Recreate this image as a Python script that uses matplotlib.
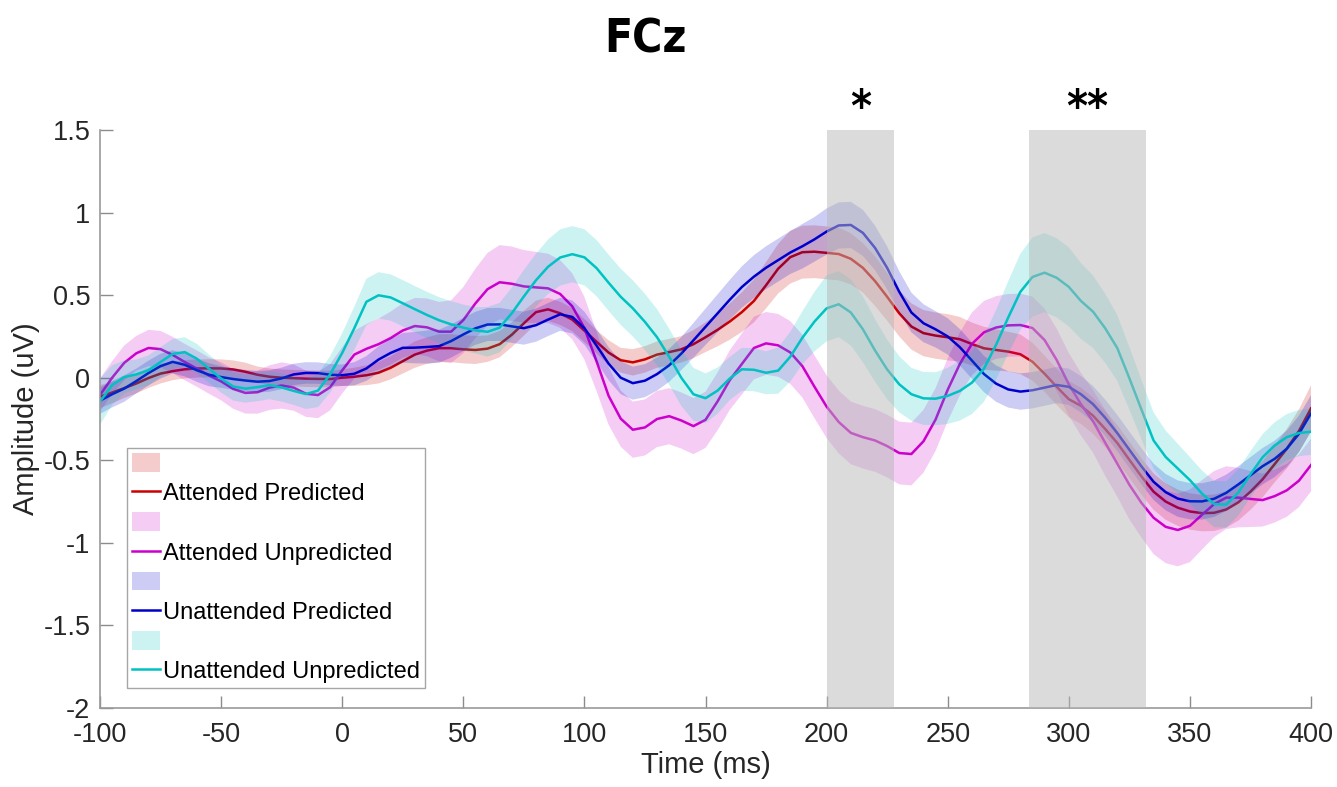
import numpy as np
import matplotlib
matplotlib.use("Agg")
import matplotlib.pyplot as plt
from matplotlib.patches import Patch
from matplotlib.lines import Line2D
from matplotlib.ticker import FormatStrFormatter
from matplotlib import font_manager

# ---- data: grand-average ERP at FCz, sampled every 5 ms ----
times = np.arange(-100, 401, 5)

attended_predicted = [
    -0.115, -0.09, -0.063, -0.035, -0.002, 0.025, 0.04, 0.051, 0.056, 0.057,
    0.056, 0.05, 0.036, 0.018, 0.006, 0.0, -0.003, -0.006, -0.007, -0.008,
    0.0, 0.006, 0.015, 0.03, 0.06, 0.1, 0.14, 0.164, 0.179, 0.179,
    0.172, 0.168, 0.176, 0.203, 0.26, 0.33, 0.397, 0.414, 0.39, 0.352,
    0.285, 0.218, 0.152, 0.106, 0.093, 0.111, 0.14, 0.155, 0.172, 0.203,
    0.245, 0.29, 0.34, 0.397, 0.465, 0.56, 0.66, 0.73, 0.76, 0.763,
    0.756, 0.749, 0.72, 0.665, 0.585, 0.49, 0.39, 0.31, 0.27, 0.255,
    0.245, 0.233, 0.204, 0.178, 0.168, 0.158, 0.142, 0.097, 0.024, -0.055,
    -0.13, -0.17, -0.23, -0.31, -0.395, -0.497, -0.598, -0.69, -0.75, -0.787,
    -0.81, -0.82, -0.818, -0.798, -0.755, -0.69, -0.615, -0.523, -0.43, -0.323,
    -0.186,
]
attended_unpredicted = [
    -0.105, 0.0, 0.09, 0.148, 0.18, 0.173, 0.138, 0.095, 0.055, 0.013,
    -0.022, -0.068, -0.092, -0.088, -0.06, -0.047, -0.06, -0.097, -0.105, -0.058,
    0.045, 0.14, 0.175, 0.203, 0.24, 0.286, 0.313, 0.305, 0.279, 0.279,
    0.349, 0.45, 0.536, 0.578, 0.569, 0.553, 0.547, 0.541, 0.507, 0.432,
    0.3, 0.1, -0.11, -0.248, -0.315, -0.301, -0.25, -0.233, -0.259, -0.293,
    -0.255, -0.143, -0.015, 0.083, 0.18, 0.208, 0.196, 0.153, 0.07, -0.055,
    -0.175, -0.268, -0.334, -0.36, -0.38, -0.414, -0.456, -0.462, -0.385, -0.253,
    -0.073, 0.083, 0.205, 0.275, 0.304, 0.317, 0.319, 0.301, 0.228, 0.107,
    -0.04, -0.16, -0.264, -0.393, -0.52, -0.648, -0.758, -0.848, -0.903, -0.922,
    -0.897, -0.83, -0.765, -0.726, -0.726, -0.734, -0.741, -0.717, -0.682, -0.624,
    -0.529,
]
unattended_predicted = [
    -0.139, -0.1, -0.066, -0.02, 0.028, 0.07, 0.096, 0.078, 0.045, 0.018,
    0.004, -0.008, -0.017, -0.024, -0.02, -0.004, 0.02, 0.029, 0.028, 0.018,
    0.015, 0.024, 0.056, 0.11, 0.15, 0.181, 0.182, 0.186, 0.191, 0.222,
    0.262, 0.299, 0.322, 0.323, 0.311, 0.3, 0.318, 0.352, 0.384, 0.368,
    0.3, 0.195, 0.085, 0.0, -0.033, -0.018, 0.022, 0.075, 0.146, 0.226,
    0.308, 0.39, 0.472, 0.549, 0.612, 0.666, 0.712, 0.758, 0.796, 0.838,
    0.885, 0.922, 0.925, 0.877, 0.786, 0.665, 0.52, 0.395, 0.33, 0.293,
    0.25, 0.185, 0.104, 0.022, -0.036, -0.071, -0.084, -0.076, -0.06, -0.044,
    -0.055, -0.1, -0.16, -0.242, -0.335, -0.436, -0.537, -0.63, -0.693, -0.732,
    -0.748, -0.749, -0.733, -0.697, -0.646, -0.591, -0.536, -0.491, -0.43, -0.34,
    -0.216,
]
unattended_unpredicted = [
    -0.145, -0.045, 0.004, 0.02, 0.045, 0.095, 0.144, 0.155, 0.115, 0.055,
    -0.005, -0.053, -0.066, -0.057, -0.045, -0.059, -0.08, -0.099, -0.078, 0.02,
    0.15, 0.3, 0.46, 0.499, 0.486, 0.451, 0.415, 0.38, 0.348, 0.323,
    0.303, 0.287, 0.278, 0.303, 0.39, 0.492, 0.59, 0.672, 0.728, 0.748,
    0.729, 0.664, 0.575, 0.49, 0.42, 0.338, 0.245, 0.127, 0.0, -0.1,
    -0.124, -0.078, -0.005, 0.051, 0.048, 0.03, 0.043, 0.127, 0.242, 0.34,
    0.42, 0.445, 0.395, 0.293, 0.165, 0.05, -0.04, -0.1, -0.125, -0.127,
    -0.11, -0.08, -0.03, 0.055, 0.2, 0.365, 0.52, 0.61, 0.636, 0.605,
    0.55, 0.465, 0.4, 0.3, 0.18, -0.003, -0.193, -0.38, -0.48, -0.55,
    -0.62, -0.702, -0.765, -0.768, -0.695, -0.585, -0.482, -0.41, -0.36, -0.335,
    -0.327,
]

# standard error of the mean for each condition
sem_attended_predicted = [
    0.07, 0.065, 0.06, 0.06, 0.06, 0.06, 0.055, 0.055, 0.055, 0.055,
    0.055, 0.055, 0.055, 0.05, 0.05, 0.05, 0.05, 0.05, 0.05, 0.05,
    0.05, 0.055, 0.06, 0.065, 0.07, 0.075, 0.08, 0.08, 0.085, 0.085,
    0.085, 0.085, 0.08, 0.08, 0.075, 0.075, 0.07, 0.07, 0.07, 0.07,
    0.07, 0.07, 0.075, 0.075, 0.08, 0.08, 0.08, 0.08, 0.08, 0.085,
    0.09, 0.1, 0.11, 0.12, 0.13, 0.14, 0.15, 0.16, 0.16, 0.16,
    0.16, 0.16, 0.155, 0.15, 0.15, 0.145, 0.14, 0.14, 0.14, 0.14,
    0.14, 0.135, 0.13, 0.13, 0.125, 0.12, 0.12, 0.115, 0.11, 0.11,
    0.11, 0.11, 0.11, 0.11, 0.11, 0.11, 0.11, 0.11, 0.11, 0.11,
    0.11, 0.11, 0.11, 0.11, 0.11, 0.11, 0.11, 0.11, 0.12, 0.13,
    0.14,
]
sem_attended_unpredicted = [
    0.1, 0.1, 0.105, 0.105, 0.11, 0.11, 0.11, 0.11, 0.11, 0.11,
    0.115, 0.12, 0.125, 0.13, 0.135, 0.14, 0.14, 0.14, 0.14, 0.14,
    0.14, 0.145, 0.15, 0.155, 0.16, 0.165, 0.17, 0.175, 0.18, 0.19,
    0.2, 0.21, 0.22, 0.225, 0.225, 0.22, 0.215, 0.21, 0.205, 0.2,
    0.19, 0.18, 0.175, 0.17, 0.17, 0.17, 0.17, 0.17, 0.17, 0.17,
    0.17, 0.175, 0.18, 0.185, 0.19, 0.19, 0.19, 0.19, 0.19, 0.19,
    0.19, 0.19, 0.19, 0.19, 0.19, 0.19, 0.19, 0.19, 0.19, 0.19,
    0.19, 0.19, 0.19, 0.19, 0.19, 0.19, 0.19, 0.19, 0.19, 0.19,
    0.19, 0.19, 0.19, 0.2, 0.2, 0.21, 0.21, 0.22, 0.22, 0.22,
    0.22, 0.21, 0.2, 0.19, 0.18, 0.17, 0.16, 0.16, 0.16, 0.16,
    0.16,
]
sem_unattended_predicted = [
    0.08, 0.08, 0.08, 0.075, 0.075, 0.075, 0.07, 0.07, 0.07, 0.07,
    0.065, 0.065, 0.065, 0.065, 0.065, 0.065, 0.065, 0.065, 0.065, 0.065,
    0.065, 0.07, 0.075, 0.08, 0.085, 0.09, 0.095, 0.1, 0.1, 0.1,
    0.1, 0.1, 0.1, 0.1, 0.1, 0.1, 0.1, 0.1, 0.1, 0.1,
    0.1, 0.1, 0.1, 0.1, 0.1, 0.1, 0.1, 0.1, 0.1, 0.105,
    0.11, 0.115, 0.12, 0.125, 0.13, 0.13, 0.13, 0.13, 0.135, 0.135,
    0.14, 0.14, 0.14, 0.14, 0.135, 0.13, 0.125, 0.12, 0.115, 0.11,
    0.11, 0.11, 0.11, 0.11, 0.11, 0.11, 0.11, 0.11, 0.11, 0.11,
    0.11, 0.11, 0.11, 0.11, 0.11, 0.11, 0.11, 0.11, 0.11, 0.11,
    0.11, 0.11, 0.11, 0.11, 0.11, 0.11, 0.11, 0.11, 0.11, 0.11,
    0.11,
]
sem_unattended_unpredicted = [
    0.14, 0.12, 0.1, 0.09, 0.09, 0.09, 0.09, 0.09, 0.09, 0.085,
    0.085, 0.085, 0.085, 0.085, 0.085, 0.085, 0.085, 0.09, 0.1, 0.11,
    0.12, 0.13, 0.14, 0.14, 0.14, 0.14, 0.14, 0.14, 0.14, 0.14,
    0.14, 0.14, 0.15, 0.15, 0.155, 0.16, 0.16, 0.165, 0.17, 0.17,
    0.17, 0.17, 0.17, 0.17, 0.17, 0.17, 0.17, 0.17, 0.17, 0.16,
    0.15, 0.14, 0.13, 0.13, 0.13, 0.13, 0.14, 0.15, 0.16, 0.18,
    0.2, 0.2, 0.2, 0.2, 0.19, 0.18, 0.17, 0.16, 0.16, 0.16,
    0.17, 0.18, 0.19, 0.2, 0.21, 0.22, 0.23, 0.24, 0.24, 0.24,
    0.24, 0.23, 0.22, 0.21, 0.2, 0.19, 0.18, 0.17, 0.16, 0.15,
    0.14, 0.14, 0.14, 0.14, 0.14, 0.14, 0.14, 0.14, 0.14, 0.14,
    0.14,
]

condition_names = ["Attended Predicted", "Attended Unpredicted",
                   "Unattended Predicted", "Unattended Unpredicted"]
condition_means = [attended_predicted, attended_unpredicted,
                   unattended_predicted, unattended_unpredicted]
condition_sems = [sem_attended_predicted, sem_attended_unpredicted,
                  sem_unattended_predicted, sem_unattended_unpredicted]
condition_colors = [(0.8, 0.0, 0.0), (0.8, 0.0, 0.8),
                    (0.0, 0.0, 0.8), (0.0, 0.76, 0.76)]

# significant time windows (ms) and their markers
sig_windows = [(200, 228), (283.5, 332)]
sig_labels = ["*", "**"]


def heading_font():
    """Prefer a condensed bold face for the heading, if one is installed."""
    for fam in ("DejaVu Sans", "Liberation Sans Narrow"):
        fp = font_manager.FontProperties(family=fam, weight="bold",
                                         stretch="condensed")
        path = font_manager.findfont(fp, fallback_to_default=False)
        if path and ("Condensed" in path or "Narrow" in path):
            return font_manager.FontProperties(fname=path)
    return font_manager.FontProperties(family="Liberation Sans", weight="bold")


# ---- figure ----
W, H = 1337, 787
plt.rcParams["axes.unicode_minus"] = False
plt.rcParams["font.family"] = ["Liberation Sans", "DejaVu Sans"]
fig = plt.figure(figsize=(W / 100, H / 100), dpi=100)
ax = fig.add_axes([100 / W, (H - 708) / H, 1211 / W, 578 / H])

handles, labels = [], []
for name, mean, sem, col in zip(condition_names, condition_means,
                                condition_sems, condition_colors):
    m = np.asarray(mean)
    s = np.asarray(sem)
    ax.fill_between(times, m - s, m + s, facecolor=col, alpha=0.2,
                    edgecolor="none", zorder=2)
    ax.plot(times, m, color=col, lw=1.8, zorder=2)
    handles += [Patch(facecolor=col, alpha=0.2, edgecolor="none"),
                Line2D([], [], color=col, lw=1.8)]
    labels += ["", name]

try:
    hfont = heading_font()
except Exception:
    hfont = font_manager.FontProperties(family="Liberation Sans", weight="bold")

for (t0, t1), lab in zip(sig_windows, sig_labels):
    ax.axvspan(t0, t1, facecolor=(0.72, 0.72, 0.72), alpha=0.5,
               edgecolor="none", zorder=5)
    fp = hfont.copy()
    fp.set_size(32)
    ax.text((t0 + t1) / 2, 1.63, lab, ha="center", va="center",
            fontproperties=fp, clip_on=False)

ax.set_xlim(-100, 400)
ax.set_ylim(-2, 1.5)
ax.set_xticks(np.arange(-100, 401, 50))
ax.set_yticks(np.arange(-2, 1.51, 0.5))
ax.yaxis.set_major_formatter(FormatStrFormatter("%g"))

for side in ("top", "right"):
    ax.spines[side].set_visible(False)
for side in ("left", "bottom"):
    ax.spines[side].set_color((0.6, 0.6, 0.6))
    ax.spines[side].set_linewidth(1.2)
ax.tick_params(direction="in", length=9, width=1.0, color=(0.55, 0.55, 0.55),
               labelsize=19.5, labelcolor=(0.15, 0.15, 0.15))
ax.tick_params(axis="y", pad=7)
ax.tick_params(axis="x", pad=10)

ax.set_xlabel("Time (ms)", fontsize=21, color=(0.15, 0.15, 0.15), labelpad=2)
ax.set_ylabel("Amplitude (uV)", fontsize=21, color=(0.15, 0.15, 0.15), labelpad=2)

tfp = hfont.copy()
tfp.set_size(33)
fig.text(646 / W, (H - 40) / H, "FCz", ha="center", va="center",
         fontproperties=tfp)

leg = ax.legend(handles, labels, loc="lower left",
                bbox_to_anchor=(127 / W, 99 / H), bbox_transform=fig.transFigure,
                borderaxespad=0, fontsize=17, frameon=True, fancybox=False,
                framealpha=1, edgecolor=(0.65, 0.65, 0.65),
                handlelength=1.2, handleheight=0.85, handletextpad=0.12,
                labelspacing=0.3, borderpad=0.2)
leg.get_frame().set_linewidth(1.0)
leg.set_zorder(10)

fig.savefig("out.png", dpi=100)
